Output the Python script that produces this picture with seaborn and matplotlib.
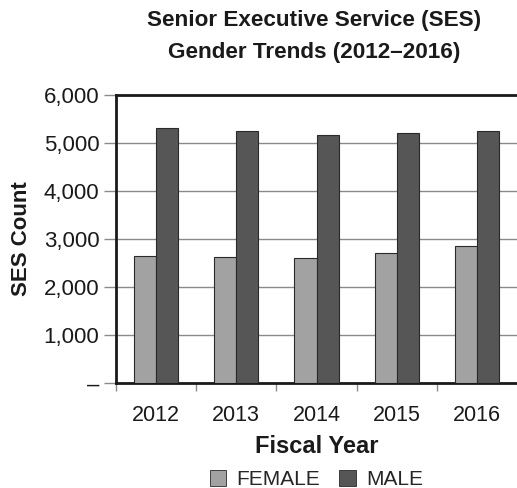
import matplotlib
matplotlib.use("Agg")
import matplotlib.pyplot as plt
import seaborn as sns
import pandas as pd
from matplotlib.ticker import FixedLocator, FuncFormatter
from matplotlib.patches import Patch

years = ["2012", "2013", "2014", "2015", "2016"]
female = [2645, 2630, 2600, 2715, 2860]
male = [5310, 5260, 5170, 5220, 5260]
series = ["FEMALE", "MALE"]
yticks = [0, 1000, 2000, 3000, 4000, 5000, 6000]

df = pd.DataFrame({
    "Fiscal Year": years * 2,
    "Gender": [series[0]] * len(years) + [series[1]] * len(years),
    "SES Count": female + male,
})

sns.set_theme(style="white")
plt.rcParams["font.family"] = ["Liberation Sans", "DejaVu Sans"]

colors = {"FEMALE": "#a2a2a2", "MALE": "#565656"}

fig = plt.figure(figsize=(5.17, 4.88), dpi=100)
ax = fig.add_axes([0.2244, 0.215, 0.7756, 0.59])

sns.barplot(data=df, x="Fiscal Year", y="SES Count", hue="Gender",
            palette=colors, width=0.55, gap=0, edgecolor="#2a2a2a",
            linewidth=0.8, ax=ax, legend=False, zorder=3)

ax.set_xlim(-0.5, 4.5)
ax.set_ylim(0, 6000)
ax.yaxis.set_major_locator(FixedLocator(yticks))
ax.yaxis.set_major_formatter(FuncFormatter(lambda v, p: "–" if v == 0 else f"{int(v):,}"))
ax.grid(axis="y", color="#8a8a8a", linewidth=1.0, zorder=0)
ax.set_axisbelow(True)

for s in ["left", "bottom", "top"]:
    ax.spines[s].set_visible(True)
    ax.spines[s].set_color("#1a1a1a")
    ax.spines[s].set_linewidth(2.0)
ax.spines["right"].set_visible(False)

ax.tick_params(axis="y", which="major", left=True, length=9, width=1.0,
               color="#8a8a8a", labelsize=16, labelcolor="#1a1a1a", pad=3)
ax.tick_params(axis="x", which="major", bottom=False, labelsize=15.5,
               labelcolor="#1a1a1a", pad=10)
ax.xaxis.set_minor_locator(FixedLocator([-0.5, 0.5, 1.5, 2.5, 3.5]))
ax.tick_params(axis="x", which="minor", bottom=True, length=6, width=1.0,
               color="#8a8a8a")

ax.set_xlabel("Fiscal Year", fontsize=17, fontweight="bold", color="#1a1a1a", labelpad=6)
ax.set_ylabel("SES Count", fontsize=16, fontweight="bold", color="#1a1a1a", labelpad=8)

fig.text(0.607, 0.957, "Senior Executive Service (SES)", ha="center", va="center",
         fontsize=16.2, fontweight="bold", color="#1a1a1a")
fig.text(0.607, 0.893, "Gender Trends (2012–2016)", ha="center", va="center",
         fontsize=16.2, fontweight="bold", color="#1a1a1a")

handles = [Patch(facecolor=colors[s], edgecolor="#2a2a2a", linewidth=0.6, label=s) for s in series]
fig.legend(handles=handles, loc="center", bbox_to_anchor=(0.612, 0.018), ncol=2,
           frameon=False, fontsize=15, handlelength=0.8, handleheight=0.8,
           handletextpad=0.5, columnspacing=0.9, borderpad=0)

fig.savefig("out.png", dpi=100)
